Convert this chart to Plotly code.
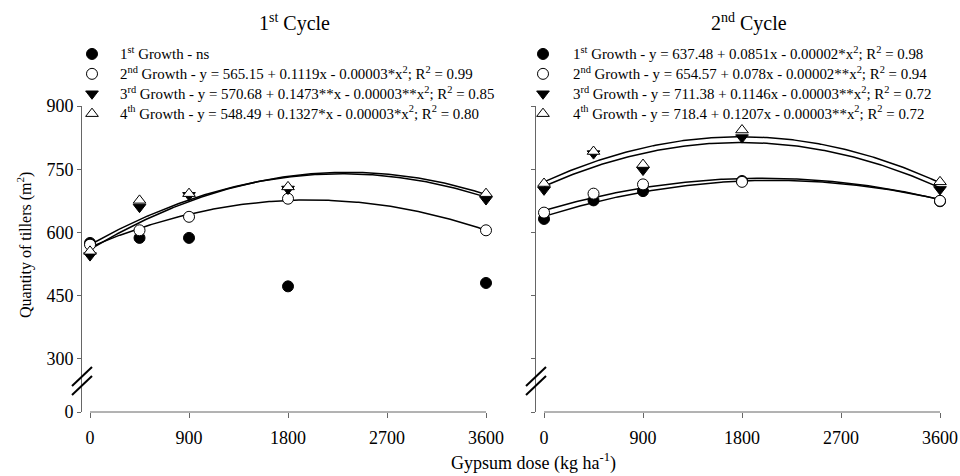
import numpy as np
import plotly.graph_objects as go

W, H = 960, 476

# ---------------- data ----------------
doses = [0, 450, 900, 1800, 3600]

c1_g1 = [575, 587, 587, 472, 480]
c1_g2 = [571, 605, 637, 680, 605]
c1_g3 = [545, 660, 688, 703, 678]
c1_g4 = [555, 676, 692, 708, 692]

c2_g1 = [632, 676, 698, 722, 674]
c2_g2 = [647, 692, 714, 720, 675]
c2_g3 = [701, 787, 748, 825, 702]
c2_g4 = [716, 792, 761, 843, 720]

# fitted quadratic trend lines as drawn (a, b, c): y = a + b x + c x^2
c1_fit = [None,
          (565.15, 0.1119, -2.80e-5),
          (570.68, 0.1473, -3.22e-5),
          (560.0, 0.1561, -3.333e-5)]
c2_fit = [(638.0, 0.0822, -1.975e-5),
          (652.0, 0.0772, -1.944e-5),
          (709.5, 0.1165, -3.264e-5),
          (720.0, 0.1196, -3.341e-5)]

growth_names = ["1<sup>st</sup> Growth", "2<sup>nd</sup> Growth",
                "3<sup>rd</sup> Growth", "4<sup>th</sup> Growth"]
c1_eq = [" - ns",
         " - y = 565.15 + 0.1119x - 0.00003*x<sup>2</sup>; R<sup>2</sup> = 0.99",
         " - y = 570.68 + 0.1473**x - 0.00003**x<sup>2</sup>; R<sup>2</sup> = 0.85",
         " - y = 548.49 + 0.1327*x - 0.00003*x<sup>2</sup>; R<sup>2</sup> = 0.80"]
c2_eq = [" - y = 637.48 + 0.0851x - 0.00002*x<sup>2</sup>; R<sup>2</sup> = 0.98",
         " - y = 654.57 + 0.078x - 0.00002**x<sup>2</sup>; R<sup>2</sup> = 0.94",
         " - y = 711.38 + 0.1146x - 0.00003**x<sup>2</sup>; R<sup>2</sup> = 0.72",
         " - y = 718.4 + 0.1207x - 0.00003**x<sup>2</sup>; R<sup>2</sup> = 0.72"]

x_ticks = [0, 900, 1800, 2700, 3600]
y_ticks = [300, 450, 600, 750, 900]
y_break_zero = 173.8   # position used for the "0" label below the axis break

# ---------------- styling ----------------
FONT = "Liberation Serif"
AX = "#666666"
symbols = [
    dict(symbol="circle", color="black", size=11, line=dict(color="black", width=1)),
    dict(symbol="circle", color="white", size=11, line=dict(color="black", width=1)),
    dict(symbol="triangle-down", color="black", size=11, line=dict(color="black", width=1)),
    dict(symbol="triangle-up", color="white", size=11, line=dict(color="black", width=1)),
]

fig = go.Figure()

xs = np.linspace(0, 3600, 200)
series = [
    ([c1_g1, c1_g2, c1_g3, c1_g4], c1_fit, c1_eq, "x", "y", "legend"),
    ([c2_g1, c2_g2, c2_g3, c2_g4], c2_fit, c2_eq, "x2", "y2", "legend2"),
]
for vals, fits, eqs, xa, ya, lg in series:
    for fit in fits:
        if fit is None:
            continue
        a, b, c = fit
        fig.add_trace(go.Scatter(x=xs, y=a + b * xs + c * xs ** 2, mode="lines",
                                 line=dict(color="black", width=1.5),
                                 showlegend=False, xaxis=xa, yaxis=ya, hoverinfo="skip"))
    for i, v in enumerate(vals):
        name = '<span style="font-size:14.9px">' + growth_names[i] + eqs[i] + "</span>"
        fig.add_trace(go.Scatter(x=doses, y=v, mode="markers", marker=symbols[i],
                                 name=name, legend=lg,
                                 xaxis=xa, yaxis=ya, cliponaxis=False))

def px(x):
    return x / W

def py(y):
    return 1 - y / H

ydom = [py(412), py(106)]
common_x = dict(range=[-73, 3600], tickvals=x_ticks, ticks="outside", ticklen=5,
                tickcolor=AX, showline=False, showgrid=False, zeroline=False,
                tickfont=dict(family=FONT, size=18, color="black"),
                ticklabelstandoff=4)
common_y = dict(range=[y_break_zero, 900], tickvals=[y_break_zero] + y_ticks,
                ticktext=["0"] + [str(t) for t in y_ticks],
                ticks="outside", ticklen=4, tickcolor=AX, showline=True, linecolor=AX,
                linewidth=1, showgrid=False, zeroline=False, domain=ydom,
                tickfont=dict(family=FONT, size=18, color="black"),
                ticklabelstandoff=0)

fig.update_layout(
    width=W, height=H, template="none",
    margin=dict(l=0, r=0, t=0, b=0),
    paper_bgcolor="white", plot_bgcolor="white",
    hovermode=False,
    xaxis=dict(domain=[px(82), px(486)], anchor="y", **common_x),
    yaxis=dict(anchor="x", **common_y),
    xaxis2=dict(domain=[px(536), px(940)], anchor="y2", **common_x),
    yaxis2=dict(anchor="x2", **common_y),
    legend=dict(x=px(64), y=py(39), xanchor="left", yanchor="top",
                itemwidth=46, font=dict(family=FONT, size=13, color="black"),
                bgcolor="rgba(0,0,0,0)", borderwidth=0, tracegroupgap=0),
    legend2=dict(x=px(513), y=py(39), xanchor="left", yanchor="top",
                 itemwidth=50, font=dict(family=FONT, size=13, color="black"),
                 bgcolor="rgba(0,0,0,0)", borderwidth=0, tracegroupgap=0),
)
fig.layout.yaxis2.showticklabels = False

# x-axis lines (start at dose 0, offset from the y axis)
for xr in ["x", "x2"]:
    fig.add_shape(type="line", xref=xr, yref="paper", x0=0, x1=3600,
                  y0=ydom[0], y1=ydom[0], line=dict(color=AX, width=1))

# axis break marks
for ax in [82, 536]:
    for dy in [0, 9]:
        fig.add_shape(type="line", xref="paper", yref="paper",
                      x0=px(ax - 10), y0=py(386 + dy), x1=px(ax + 10), y1=py(367 + dy),
                      line=dict(color="black", width=2))

ann = [
    dict(text="1<sup>st</sup> Cycle", x=px(294), y=py(22), size=20),
    dict(text="2<sup>nd</sup> Cycle", x=px(749), y=py(22), size=20),
    dict(text="Gypsum dose (kg ha<sup>-1</sup>)", x=px(533), y=py(462), size=18),
]
for a in ann:
    fig.add_annotation(text=a["text"], x=a["x"], y=a["y"], xref="paper", yref="paper",
                       showarrow=False, xanchor="center", yanchor="middle",
                       font=dict(family=FONT, size=a["size"], color="black"))
fig.add_annotation(text="Quantity of tillers (m<sup>2</sup>)", x=px(25), y=py(245),
                   xref="paper", yref="paper", showarrow=False, textangle=-90,
                   xanchor="center", yanchor="middle",
                   font=dict(family=FONT, size=16, color="black"))

fig.write_html("out.html", post_script="document.body.style.margin='0px';",
               config={"displayModeBar": False})
